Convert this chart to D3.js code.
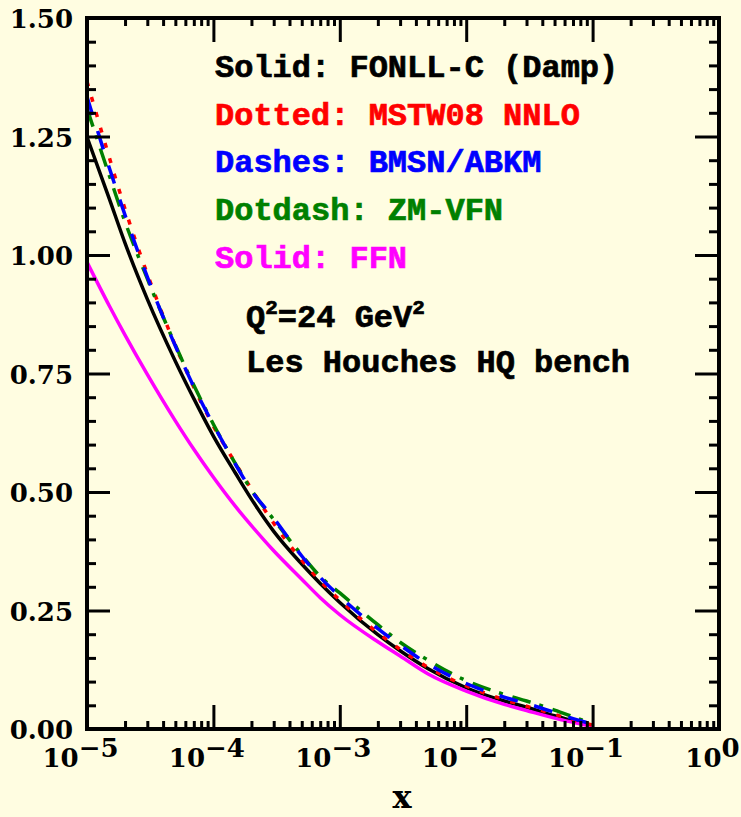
<!DOCTYPE html>
<html>
<head>
<meta charset="utf-8">
<script src="https://cdn.jsdelivr.net/npm/d3@7"></script>
<style>
  body { margin: 0; background: #fffde1; }
  svg { display: block; }
</style>
</head>
<body>
<svg id="chart" width="741" height="817"></svg>
<script>
// x grid (log scale) shared by every curve
const xVals = [1e-5, 1.5e-5, 2e-5, 3e-5, 5e-5, 7e-5, 1e-4, 1.5e-4, 2e-4, 3e-4, 5e-4, 7e-4,
               1e-3, 2e-3, 3e-3, 5e-3, 1e-2, 2e-2, 3e-2, 5e-2, 7e-2, 1e-1];

// curves
const fonllC = [1.249, 1.119, 1.025, 0.907, 0.776, 0.697, 0.618, 0.539, 0.485, 0.417, 0.348, 0.307,
                0.267, 0.199, 0.165, 0.127, 0.087, 0.059, 0.046, 0.028, 0.017, 0.007];
const mstw08 = [1.366, 1.206, 1.097, 0.960, 0.809, 0.721, 0.639, 0.560, 0.506, 0.434, 0.356, 0.312,
                0.272, 0.203, 0.168, 0.130, 0.091, 0.062, 0.048, 0.031, 0.019, 0.008];
const bmsn   = [1.334, 1.184, 1.084, 0.954, 0.808, 0.722, 0.642, 0.558, 0.503, 0.445, 0.365, 0.320,
                0.280, 0.212, 0.177, 0.137, 0.096, 0.067, 0.054, 0.035, 0.022, 0.010];
const zmvfn  = [1.309, 1.168, 1.070, 0.950, 0.810, 0.725, 0.643, 0.559, 0.504, 0.442, 0.367, 0.322,
                0.287, 0.220, 0.183, 0.145, 0.102, 0.073, 0.059, 0.040, 0.026, 0.011];
const ffn    = [0.985, 0.893, 0.831, 0.748, 0.650, 0.590, 0.531, 0.469, 0.429, 0.376, 0.316, 0.277,
                0.241, 0.184, 0.154, 0.116, 0.080, 0.052, 0.039, 0.023, 0.014, 0.005];

// axis ticks
const yMajor = [0, 0.25, 0.5, 0.75, 1.0, 1.25, 1.5];
const yMinor = d3.range(0, 31).map(i => i * 0.05).filter(v => Math.round(v * 100) % 25 !== 0);
const xMajor = [1e-5, 1e-4, 1e-3, 1e-2, 1e-1, 1];
const xExponents = ['\u22125', '\u22124', '\u22123', '\u22122', '\u22121', '0'];
const xMinor = [];
for (let d = -5; d < 0; d++) for (let m = 2; m <= 9; m++) xMinor.push(m * Math.pow(10, d));

const legendLabels = ['Solid: FONLL-C (Damp)', 'Dotted: MSTW08 NNLO', 'Dashes: BMSN/ABKM',
                      'Dotdash: ZM-VFN', 'Solid: FFN'];
const legendColors = ['#000000', '#ff0000', '#0000ff', '#008000', '#ff00ff'];

const svg = d3.select('#chart');
svg.append('rect').attr('width', 741).attr('height', 817).attr('fill', '#fffde1');

const x = d3.scaleLog().domain([1e-5, 1]).range([87, 719]);
const y = d3.scaleLinear().domain([0, 1.5]).range([729, 18]);

const line = d3.line()
    .x(d => x(d[0]))
    .y(d => y(d[1]))
    .curve(d3.curveMonotoneX);

// draw order and styles of the curves
const curves = [
    {vals: fonllC, color: '#000000', dash: null},
    {vals: ffn,    color: '#ff00ff', dash: null},
    {vals: mstw08, color: '#ff0000', dash: '5,11'},
    {vals: zmvfn,  color: '#008000', dash: '19,9,4,10'},
    {vals: bmsn,   color: '#0000ff', dash: '19,17'}
];
curves.forEach(c => {
    svg.append('path')
        .datum(xVals.map((xv, i) => [xv, c.vals[i]]))
        .attr('d', line)
        .attr('fill', 'none')
        .attr('stroke', c.color)
        .attr('stroke-width', 3.5)
        .attr('stroke-dasharray', c.dash);
});

/* ticks: major + minor on all four sides, pointing inward */
function styleAxis(g) {
    g.select('.domain').remove();
    g.selectAll('line').attr('stroke', '#000').attr('stroke-width', 3);
    g.attr('font-family', '"DejaVu Serif", serif').attr('font-size', 26).attr('font-weight', 'bold');
    g.selectAll('text').attr('fill', '#000');
}

svg.append('g').attr('transform', 'translate(87,0)')
    .call(d3.axisLeft(y).tickValues(yMajor).tickSize(-23).tickPadding(14).tickFormat(d3.format('.2f')))
    .call(styleAxis)
    .selectAll('text').attr('dy', '0.38em');
svg.append('g').attr('transform', 'translate(87,0)')
    .call(d3.axisLeft(y).tickValues(yMinor).tickSize(-9).tickFormat(''))
    .call(styleAxis);
svg.append('g').attr('transform', 'translate(719,0)')
    .call(d3.axisRight(y).tickValues(yMajor).tickSize(-24).tickFormat(''))
    .call(styleAxis);
svg.append('g').attr('transform', 'translate(719,0)')
    .call(d3.axisRight(y).tickValues(yMinor).tickSize(-10).tickFormat(''))
    .call(styleAxis);

const bottom = svg.append('g').attr('transform', 'translate(0,729)')
    .call(d3.axisBottom(x).tickValues(xMajor).tickSize(-24).tickPadding(20).tickFormat(''))
    .call(styleAxis);
bottom.selectAll('.tick text').each(function(d, i) {
    const t = d3.select(this).attr('x', -7).attr('text-anchor', 'middle');
    t.append('tspan').text('10');
    t.append('tspan').attr('dy', -10).text(xExponents[i]);
});
svg.append('g').attr('transform', 'translate(0,729)')
    .call(d3.axisBottom(x).tickValues(xMinor).tickSize(-8).tickFormat(''))
    .call(styleAxis);
svg.append('g').attr('transform', 'translate(0,18)')
    .call(d3.axisTop(x).tickValues(xMajor).tickSize(-24).tickFormat(''))
    .call(styleAxis);
svg.append('g').attr('transform', 'translate(0,18)')
    .call(d3.axisTop(x).tickValues(xMinor).tickSize(-8).tickFormat(''))
    .call(styleAxis);

// frame
svg.append('rect')
    .attr('x', 87).attr('y', 18)
    .attr('width', 719 - 87).attr('height', 729 - 18)
    .attr('fill', 'none').attr('stroke', '#000').attr('stroke-width', 4);

// axis title
svg.append('text')
    .attr('x', 402).attr('y', 808)
    .attr('text-anchor', 'middle')
    .attr('font-family', '"DejaVu Serif", serif')
    .attr('font-weight', 'bold')
    .attr('font-size', 32)
    .text('x');

// legend text (stroked a little to get the heavy typewriter look)
const mono = '"Liberation Mono", "DejaVu Sans Mono", monospace';
legendLabels.forEach((lab, i) => {
    svg.append('text')
        .attr('x', 215).attr('y', 77 + i * 47.7)
        .attr('font-family', mono).attr('font-weight', 'bold').attr('font-size', 32)
        .attr('fill', legendColors[i])
        .attr('stroke', legendColors[i]).attr('stroke-width', 0.7)
        .text(lab);
});

const q2 = svg.append('text')
    .attr('x', 246).attr('y', 327)
    .attr('font-family', mono).attr('font-weight', 'bold').attr('font-size', 32)
    .attr('stroke', '#000').attr('stroke-width', 0.7);
q2.append('tspan').text('Q');
q2.append('tspan').attr('dy', -13).attr('font-size', 21).text('2');
q2.append('tspan').attr('dy', 13).text('=24 GeV');
q2.append('tspan').attr('dy', -13).attr('font-size', 21).text('2');

svg.append('text')
    .attr('x', 246).attr('y', 372)
    .attr('font-family', mono).attr('font-weight', 'bold').attr('font-size', 32)
    .attr('stroke', '#000').attr('stroke-width', 0.7)
    .text('Les Houches HQ bench');
</script>
</body>
</html>
